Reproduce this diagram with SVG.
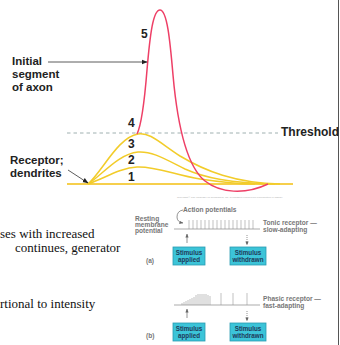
<svg xmlns="http://www.w3.org/2000/svg" width="340" height="345" viewBox="0 0 340 345">
<defs>
<style>
.lbl{font-family:"Liberation Sans",Arial,sans-serif;font-weight:bold;fill:#222;}
.big{font-size:11.5px;}
.num{font-size:12px;}
.body{font-family:"Liberation Serif","Times New Roman",serif;font-size:13px;fill:#111;}
.sm{font-family:"Liberation Sans",Arial,sans-serif;font-size:6.6px;fill:#777;font-weight:bold;}
.boxt{font-family:"Liberation Sans",Arial,sans-serif;font-size:6.3px;fill:#1e3a5a;font-weight:bold;text-anchor:middle;}
.box{fill:#3cc4d8;stroke:#2a9cb2;stroke-width:0.8;}
.yel{fill:none;stroke:#f2cc2a;stroke-width:1.5;}
.spk{stroke:#999;stroke-width:0.6;}
.ar{stroke:#333;stroke-width:0.8;fill:none;}
</style>
<marker id="ah" viewBox="0 0 10 10" refX="9" refY="5" markerWidth="6" markerHeight="6" orient="auto-start-reverse" markerUnits="userSpaceOnUse">
<path d="M0,1 L10,5 L0,9 z" fill="#222"/>
</marker>
<marker id="ahs" viewBox="0 0 10 10" refX="9" refY="5" markerWidth="4" markerHeight="4" orient="auto" markerUnits="userSpaceOnUse">
<path d="M0,1 L10,5 L0,9 z" fill="#666"/>
</marker>
</defs>
<rect width="340" height="345" fill="#ffffff"/>
<line x1="338.5" y1="0" x2="338.5" y2="345" stroke="#555" stroke-width="1"/>

<g id="graph">
<line id="threshold-line" x1="67" y1="133" x2="278" y2="133" stroke="#9fb0b0" stroke-width="1" stroke-dasharray="3.5,3"/>
<line id="baseline" x1="67" y1="184" x2="293" y2="184" stroke="#f3bf10" stroke-width="1.6"/>
<path id="curve2" class="yel" d="M88,184 C105,178 120,168 137,167 C155,166 175,175 200,179 C220,182 235,184 255,184"/>
<path id="curve3" class="yel" d="M88,184 C102,175 118,154 138,152 C152,151 165,159 185,169 C205,178 230,183 275,184"/>
<path id="curve4" class="yel" d="M88,184 C102,172 118,137 138,134 C150,132 160,143 180,156 C205,171 235,183 280,184"/>
<path id="curve5" fill="none" stroke="#ee3f66" stroke-width="1.5" d="M137,134 C142,124 145,95 147,70 C150,35 153,10 160,10 C167,10 170,40 173,75 C177,120 185,165 205,181 C220,193 245,195 268,184"/>
</g>

<g id="labels">
<text class="lbl num" x="141" y="38">5</text>
<text class="lbl num" x="128" y="127">4</text>
<text class="lbl num" x="128" y="148">3</text>
<text class="lbl num" x="128" y="164">2</text>
<text class="lbl num" x="128" y="181">1</text>
<text class="lbl" x="281" y="136" font-size="12px">Threshold</text>
</g>

<g id="initial-segment">
<text class="lbl big" x="12" y="65">Initial</text>
<text class="lbl big" x="12" y="78">segment</text>
<text class="lbl big" x="12" y="91">of axon</text>
</g>
<g id="receptor">
<text class="lbl big" x="10" y="164">Receptor;</text>
<text class="lbl big" x="10" y="177">dendrites</text>
</g>

<g id="connectors">
<line class="ar" x1="48" y1="62" x2="147" y2="62" marker-end="url(#ah)"/>
<line class="ar" x1="68" y1="170" x2="88" y2="183" marker-end="url(#ah)"/>
</g>

<text x="177" y="198" font-family="Liberation Sans, Arial, sans-serif" font-size="2.2" fill="#aaa" textLength="106" lengthAdjust="spacingAndGlyphs">Copyright © The McGraw-Hill Companies, Inc. Permission required for reproduction or display.</text>

<g id="body-text">
<text class="body" x="0" y="238">ses with increased</text>
<text class="body" x="15" y="252">continues, generator</text>
<text class="body" x="0" y="308">rtional to intensity</text>
</g>

<g id="inset-a">
<text class="sm" x="183" y="212" font-size="7px">Action potentials</text>
<path d="M183,210 Q177,211 177,217 Q177,222 183,223" fill="none" stroke="#666" stroke-width="0.7" marker-end="url(#ahs)"/>
<text class="sm" x="135" y="221">Resting</text>
<text class="sm" x="135" y="227">membrane</text>
<text class="sm" x="135" y="233">potential</text>
<line x1="174" y1="229" x2="260" y2="229" stroke="#888" stroke-width="0.7"/>
<g id="spikes-a">
<path class="spk" d="M189,229V220M193,229V220M197,229V220M201,229V220M205,229V220M209,229V220M213,229V220M217,229V220M221,229V220M225,229V220M229,229V220M233,229V220M237,229V220M241,229V220M245,229V220M249,229V220M253,229V220"/>
</g>
<text class="sm" x="263" y="225">Tonic receptor —</text>
<text class="sm" x="263" y="232">slow-adapting</text>
<line x1="187" y1="243" x2="187" y2="234" stroke="#666" stroke-width="0.7" marker-end="url(#ahs)"/>
<line x1="247" y1="235" x2="247" y2="245" stroke="#666" stroke-width="0.7" stroke-dasharray="1,1" marker-end="url(#ahs)"/>
<g id="applied-a">
<rect class="box" x="173" y="247" width="32" height="18"/>
<text class="boxt" x="189" y="255">Stimulus</text>
<text class="boxt" x="189" y="262">applied</text>
</g>
<g id="withdrawn-a">
<rect class="box" x="230" y="247" width="36" height="18"/>
<text class="boxt" x="248" y="255">Stimulus</text>
<text class="boxt" x="248" y="262">withdrawn</text>
</g>
<text class="sm" x="146" y="263">(a)</text>
</g>

<g id="inset-b">
<line x1="174" y1="305" x2="260" y2="305" stroke="#888" stroke-width="0.7"/>
<g id="spikes-b">
<path class="spk" d="M182,305V303M184,305V302M186,305V301M188,305V300M190,305V299M192,305V298M194,305V297M196,305V295M198,305V294M200,305V294M202,305V294M204,305V294M206,305V294M208,305V295M210,305V296M221,305V293M233,305V293M247,305V293"/>
</g>
<text class="sm" x="263" y="301">Phasic receptor —</text>
<text class="sm" x="263" y="308">fast-adapting</text>
<line x1="187" y1="318" x2="187" y2="309" stroke="#666" stroke-width="0.7" marker-end="url(#ahs)"/>
<line x1="247" y1="311" x2="247" y2="321" stroke="#666" stroke-width="0.7" stroke-dasharray="1,1" marker-end="url(#ahs)"/>
<g id="applied-b">
<rect class="box" x="173" y="323" width="32" height="18"/>
<text class="boxt" x="189" y="331">Stimulus</text>
<text class="boxt" x="189" y="338">applied</text>
</g>
<g id="withdrawn-b">
<rect class="box" x="230" y="323" width="36" height="18"/>
<text class="boxt" x="248" y="331">Stimulus</text>
<text class="boxt" x="248" y="338">withdrawn</text>
</g>
<text class="sm" x="146" y="338">(b)</text>
</g>
</svg>
